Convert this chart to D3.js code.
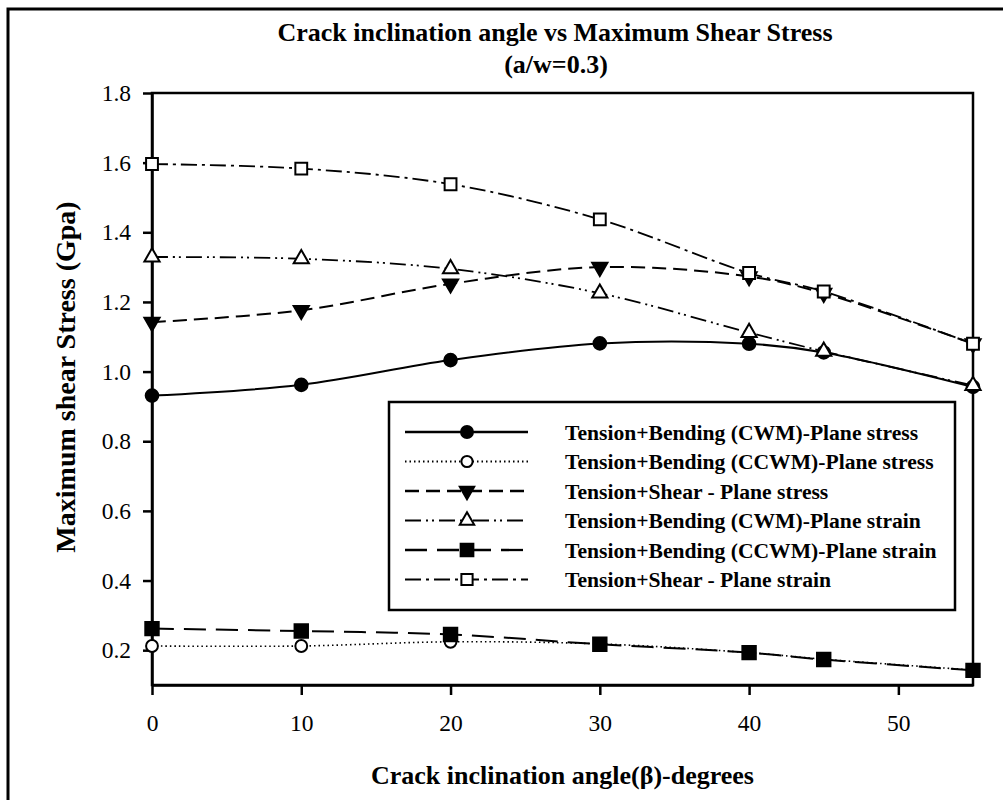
<!DOCTYPE html>
<html lang="en">
<head>
    <meta charset="UTF-8">
    <title>Crack inclination angle vs Maximum Shear Stress</title>
    <script src="https://d3js.org/d3.v7.min.js"></script>
    <style>
        body {
            margin: 0;
            background: #fff;
        }

        svg text {
            font-family: "Liberation Serif", "Times New Roman", serif;
            fill: #000;
        }

        .axis path,
        .axis line {
            stroke: #000;
            stroke-width: 2.5px;
        }

        .axis text {
            font-size: 23.5px;
        }

        .bold {
            font-weight: bold;
        }
    </style>
</head>
<body>
    <svg id="chart"></svg>

    <script>
        // crack inclination angle (degrees)
        const angles = [0, 10, 20, 30, 40, 45, 55];

        // maximum shear stress (Gpa)
        const tbCwmStress = [0.931, 0.962, 1.033, 1.081, 1.080, 1.055, 0.956];
        const tbCcwmStress = [0.212, 0.212, 0.224, 0.218, 0.193, 0.174, 0.143];
        const tsStress = [1.142, 1.176, 1.252, 1.300, 1.273, 1.225, 1.080];
        const tbCwmStrain = [1.329, 1.324, 1.295, 1.225, 1.112, 1.058, 0.960];
        const tbCcwmStrain = [0.262, 0.255, 0.245, 0.217, 0.193, 0.173, 0.142];
        const tsStrain = [1.596, 1.583, 1.538, 1.437, 1.283, 1.230, 1.080];

        const seriesNames = [
            "Tension+Bending (CWM)-Plane stress",
            "Tension+Bending (CCWM)-Plane stress",
            "Tension+Shear - Plane stress",
            "Tension+Bending (CWM)-Plane strain",
            "Tension+Bending (CCWM)-Plane strain",
            "Tension+Shear - Plane strain"
        ];

        const xTicks = [0, 10, 20, 30, 40, 50];
        const yTicks = [0.2, 0.4, 0.6, 0.8, 1.0, 1.2, 1.4, 1.6, 1.8];

        // how each series is drawn
        const styles = [
            { dash: null, width: 2, symbol: d3.symbolCircle, size: 125, fill: "#000", rotate: 0 },
            { dash: "1.5,3", width: 1.6, symbol: d3.symbolCircle, size: 110, fill: "#fff", rotate: 0 },
            { dash: "14,7", width: 2, symbol: d3.symbolTriangle, size: 100, fill: "#000", rotate: 180 },
            { dash: "16,5,2,4,2,5", width: 1.8, symbol: d3.symbolTriangle, size: 100, fill: "#fff", rotate: 0 },
            { dash: "22,10", width: 2, symbol: d3.symbolSquare, size: 180, fill: "#000", rotate: 0 },
            { dash: "16,5,3,5", width: 1.8, symbol: d3.symbolSquare, size: 140, fill: "#fff", rotate: 0 }
        ];

        const seriesValues = [tbCwmStress, tbCcwmStress, tsStress, tbCwmStrain, tbCcwmStrain, tsStrain];
        const series = seriesNames.map((name, i) => ({
            name: name,
            style: styles[i],
            points: angles.map((a, j) => ({ x: a, y: seriesValues[i][j] }))
        }));

        const fullWidth = 1003;
        const fullHeight = 800;
        const margin = { top: 93, right: 30, bottom: 115, left: 152 };
        const width = fullWidth - margin.left - margin.right;
        const height = fullHeight - margin.top - margin.bottom;

        const root = d3.select("#chart")
            .attr("width", fullWidth)
            .attr("height", fullHeight);

        // outer frame, runs off the right and bottom of the picture
        root.append("rect")
            .attr("x", 8)
            .attr("y", 9)
            .attr("width", 1100)
            .attr("height", 900)
            .attr("fill", "none")
            .attr("stroke", "#000")
            .attr("stroke-width", 3);

        const svg = root.append("g")
            .attr("transform", `translate(${margin.left}, ${margin.top})`);

        const xScale = d3.scaleLinear()
            .domain([0, 55])
            .range([0, width]);

        const yScale = d3.scaleLinear()
            .domain([0.1, 1.8])
            .range([height, 0]);

        // plot area box
        svg.append("rect")
            .attr("width", width)
            .attr("height", height)
            .attr("fill", "none")
            .attr("stroke", "#000")
            .attr("stroke-width", 2.5);

        // X-axis
        svg.append("g")
            .attr("class", "axis")
            .attr("transform", `translate(0, ${height})`)
            .call(d3.axisBottom(xScale).tickValues(xTicks).tickSize(10).tickSizeOuter(0).tickPadding(19).tickFormat(d3.format("d")));

        // Y-axis
        svg.append("g")
            .attr("class", "axis")
            .call(d3.axisLeft(yScale).tickValues(yTicks).tickSize(9).tickSizeOuter(0).tickPadding(12).tickFormat(d3.format(".1f")));

        // lines
        const line = d3.line()
            .x(d => xScale(d.x))
            .y(d => yScale(d.y))
            .curve(d3.curveCatmullRom.alpha(0.5));

        const groups = svg.selectAll(".series")
            .data(series)
            .enter().append("g")
            .attr("class", "series");

        groups.append("path")
            .attr("d", d => line(d.points))
            .attr("fill", "none")
            .attr("stroke", "#000")
            .attr("stroke-width", d => d.style.width)
            .attr("stroke-dasharray", d => d.style.dash);

        // markers
        groups.each(function(s) {
            d3.select(this).selectAll("path.marker")
                .data(s.points)
                .enter().append("path")
                .attr("class", "marker")
                .attr("d", d3.symbol().type(s.style.symbol).size(s.style.size))
                .attr("transform", d => `translate(${xScale(d.x)}, ${yScale(d.y)}) rotate(${s.style.rotate})`)
                .attr("fill", s.style.fill)
                .attr("stroke", "#000")
                .attr("stroke-width", 2);
        });

        // legend
        const legend = root.append("g");
        legend.append("rect")
            .attr("x", 389)
            .attr("y", 402)
            .attr("width", 566)
            .attr("height", 208)
            .attr("fill", "#fff")
            .attr("stroke", "#000")
            .attr("stroke-width", 2.5);

        const legendItems = legend.selectAll(".legend-item")
            .data(series)
            .enter().append("g")
            .attr("class", "legend-item")
            .attr("transform", (d, i) => `translate(0, ${432 + i * 29.5})`);

        legendItems.append("line")
            .attr("x1", 405)
            .attr("x2", 528)
            .attr("stroke", "#000")
            .attr("stroke-width", d => d.style.width + 0.3)
            .attr("stroke-dasharray", d => d.style.dash);

        legendItems.append("path")
            .attr("d", d => d3.symbol().type(d.style.symbol).size(d.style.size * 0.9)())
            .attr("transform", d => `translate(467, 0) rotate(${d.style.rotate})`)
            .attr("fill", d => d.style.fill)
            .attr("stroke", "#000")
            .attr("stroke-width", 2);

        legendItems.append("text")
            .attr("class", "bold")
            .attr("x", 565)
            .attr("dy", "0.35em")
            .style("font-size", "21.6px")
            .text(d => d.name);

        // title
        root.append("text")
            .attr("class", "bold")
            .attr("x", 555)
            .attr("y", 41)
            .attr("text-anchor", "middle")
            .style("font-size", "26px")
            .text("Crack inclination angle vs Maximum Shear Stress");

        root.append("text")
            .attr("class", "bold")
            .attr("x", 556)
            .attr("y", 73)
            .attr("text-anchor", "middle")
            .style("font-size", "26px")
            .text("(a/w=0.3)");

        // X-axis label
        root.append("text")
            .attr("class", "bold")
            .attr("x", margin.left + width / 2)
            .attr("y", 784)
            .attr("text-anchor", "middle")
            .style("font-size", "26px")
            .text("Crack inclination angle(β)-degrees");

        // Y-axis label
        root.append("text")
            .attr("class", "bold")
            .attr("transform", "translate(65, 377) rotate(-90)")
            .attr("dy", "0.35em")
            .attr("text-anchor", "middle")
            .style("font-size", "28px")
            .text("Maximum shear Stress (Gpa)");
    </script>
</body>
</html>
